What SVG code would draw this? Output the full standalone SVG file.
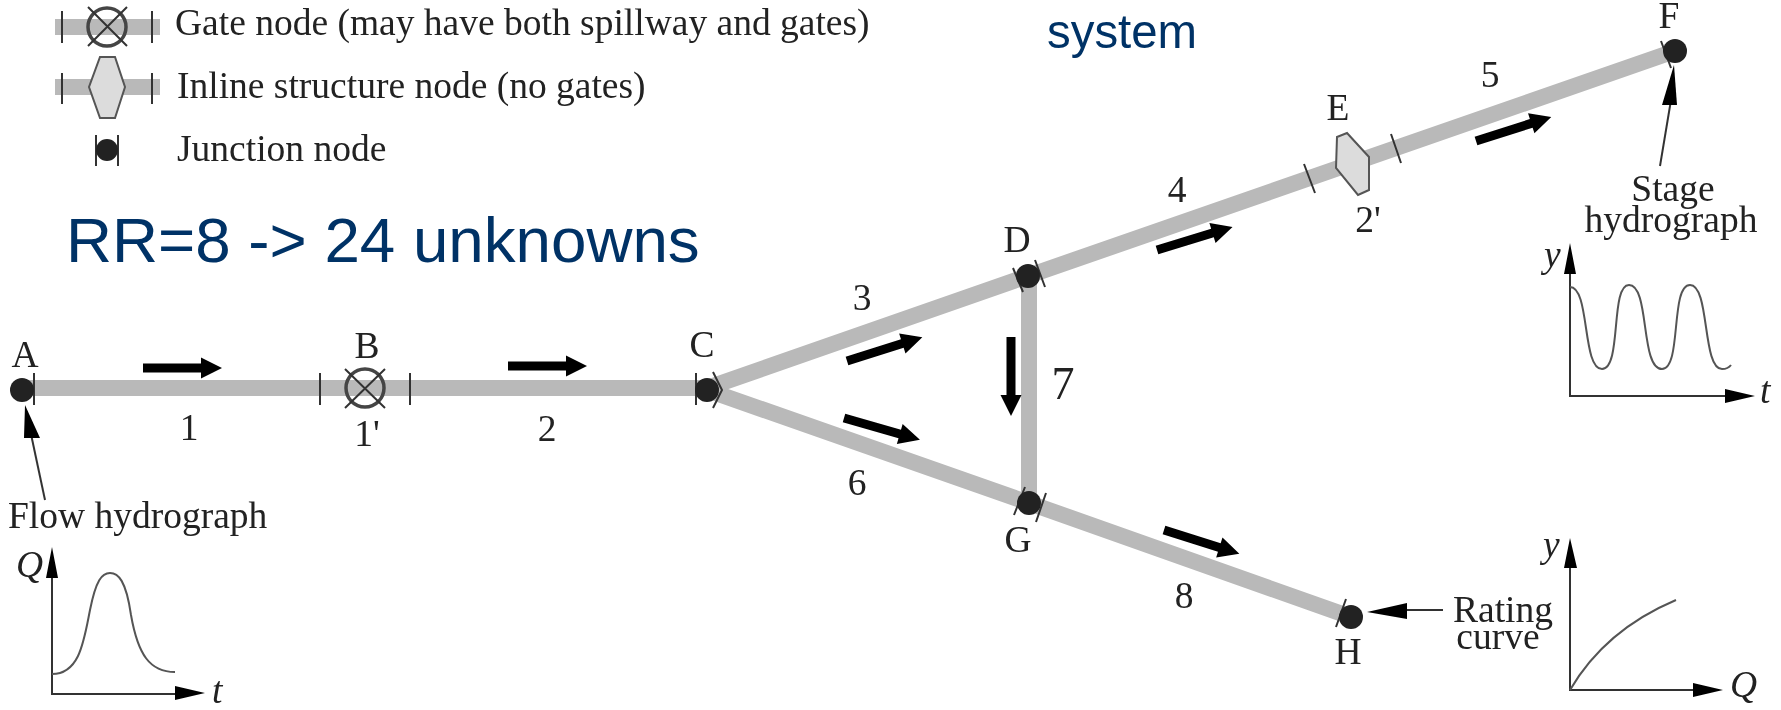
<svg xmlns="http://www.w3.org/2000/svg" width="1781" height="710" viewBox="0 0 1781 710">
<style>
.t{font-family:"Liberation Serif","Times New Roman",serif;font-size:37.5px;fill:#222}
.m{text-anchor:middle}
.i{font-style:italic}
.b{font-family:"Liberation Sans",Arial,sans-serif;fill:#003366}
.pipe{stroke:#b9b9b9;stroke-width:16;fill:none}
.tick{stroke:#333;stroke-width:2;fill:none}
.thin{stroke:#333;stroke-width:2;fill:none}
.curve{stroke:#555;stroke-width:2;fill:none}
.junction{fill:#222}
.struct{fill:#dcdcdc;stroke:#555;stroke-width:2}
.gate{fill:none;stroke:#444;stroke-width:3.5}
.head{fill:#000}
</style>
<defs>
<path id="flow" class="head" d="M0,-4.5 H58 V-10.5 L79,0 L58,10.5 V4.5 H0 Z"/>
<filter id="soft" x="0" y="0" width="100%" height="100%"><feGaussianBlur stdDeviation="0.6"/></filter>
</defs>
<g id="scan" filter="url(#soft)">
<rect width="1781" height="710" fill="#fff"/>
<g id="connectors">
<path class="pipe" d="M22,388 H707 L1028,276 L1675,51"/>
<path class="pipe" d="M707,390 L1029,503 L1351,617"/>
<path class="pipe" d="M1029,276 V503"/>
<use href="#flow" transform="translate(143,368)"/>
<use href="#flow" transform="translate(508,366)"/>
<use href="#flow" transform="translate(847,361) rotate(-17.5)"/>
<use href="#flow" transform="translate(844,418) rotate(16)"/>
<use href="#flow" transform="translate(1011,337) rotate(90)"/>
<use href="#flow" transform="translate(1157,250) rotate(-17)"/>
<use href="#flow" transform="translate(1476,141) rotate(-17.7)"/>
<use href="#flow" transform="translate(1164,530) rotate(17.5)"/>
<path class="tick" d="M34,373V405M320,373V405M410,373V405M696,373V405M713,372L722,390L713,408M1013,268L1023,292M1035,260L1045,287M1025,487L1014,515M1046,493L1036,522M1304,164L1315,193M1391,134L1401,163M1661,41L1671,68M1346,599L1336,627"/>
</g>
<g id="legend">
<path class="pipe" d="M55,27H160M55,87H160"/>
<path class="tick" d="M62,11V43M152,11V43M62,73V104M152,73V104M96,135V166M118,135V166"/>
<circle class="gate" cx="107" cy="27" r="19"/>
<path class="tick" d="M88,7L127,46M127,7L88,46"/>
<path class="struct" d="M100,57H115L125,87L115,118H100L89,87Z"/>
<circle class="junction" cx="107" cy="150" r="11"/>
<text class="t" x="175" y="35">Gate node (may have both spillway and gates)</text>
<text class="t" x="177" y="98">Inline structure node (no gates)</text>
<text class="t" x="177" y="161">Junction node</text>
</g>
<text class="b" x="66" y="262" font-size="63.7">RR=8 -&gt; 24 unknowns</text>
<text class="b" x="1047" y="48" font-size="47.4">system</text>
<g id="node-A"><circle class="junction" cx="22" cy="390" r="12"/><text class="t m" x="25" y="367">A</text></g>
<g id="node-B"><circle class="gate" cx="365" cy="388" r="19"/><path class="tick" d="M345,369L385,408M385,369L345,408"/><text class="t m" x="367" y="358">B</text><text class="t m" x="367" y="446">1'</text></g>
<g id="node-C"><circle class="junction" cx="707" cy="390" r="12"/><text class="t m" x="702" y="357">C</text></g>
<g id="node-D"><circle class="junction" cx="1028" cy="276" r="12"/><text class="t m" x="1017" y="252">D</text></g>
<g id="node-E"><path class="struct" d="M1337,137L1347,133L1369,157V190L1358,195L1336,168Z"/><text class="t m" x="1338" y="120">E</text><text class="t m" x="1368" y="232">2'</text></g>
<g id="node-F"><circle class="junction" cx="1675" cy="51" r="12"/><text class="t m" x="1669" y="28">F</text></g>
<g id="node-G"><circle class="junction" cx="1029" cy="503" r="12"/><text class="t m" x="1018" y="552">G</text></g>
<g id="node-H"><circle class="junction" cx="1351" cy="617" r="12"/><text class="t m" x="1348" y="664">H</text></g>
<g id="reach-labels">
<text class="t m" x="189" y="440">1</text>
<text class="t m" x="547" y="441">2</text>
<text class="t m" x="862" y="310">3</text>
<text class="t m" x="1177" y="202">4</text>
<text class="t m" x="1490" y="87">5</text>
<text class="t m" x="857" y="495">6</text>
<text class="t m" x="1063" y="399" style="font-size:46px">7</text>
<text class="t m" x="1184" y="608">8</text>
</g>
<g id="flow-hydrograph">
<path class="thin" d="M45,500L28,420"/><path class="head" d="M25,405L40,438L24,438Z"/>
<text class="t" x="8" y="528">Flow hydrograph</text>
<path class="thin" d="M52,570V694H180"/>
<path class="head" d="M52,547L58,578H46ZM205,693L175,686V700Z"/>
<path class="curve" d="M52,674C80,674 84,640 90,610C96,580 102,573 110,573C118,573 126,580 131,615C138,655 150,672 175,672"/>
<text class="t i" x="16" y="577">Q</text>
<text class="t i" x="212" y="703">t</text>
</g>
<g id="stage-hydrograph">
<path class="thin" d="M1660,166L1671,100"/><path class="head" d="M1674,65L1677,105H1662Z"/>
<text class="t m" x="1673" y="201">Stage</text>
<text class="t m" x="1671" y="232">hydrograph</text>
<path class="thin" d="M1570,270V396H1730"/>
<path class="head" d="M1570,243L1576,274H1564ZM1755,396L1725,389V403Z"/>
<path class="curve" d="M1570,287C1590,287 1582,369 1602,369C1622,369 1610,285 1629,285C1650,285 1640,369 1662,369C1682,369 1670,285 1690,285C1710,285 1702,369 1722,369Q1728,369 1731,365"/>
<text class="t i" x="1544" y="267">y</text>
<text class="t i" x="1760" y="403">t</text>
</g>
<g id="rating-curve">
<path class="thin" d="M1400,610H1443"/><path class="head" d="M1367,612L1407,603V619Z"/>
<text class="t" x="1453" y="622">Rating</text>
<text class="t m" x="1498" y="649">curve</text>
<path class="thin" d="M1570,565V690H1700"/>
<path class="head" d="M1570,538L1577,568H1564ZM1723,690L1693,683V697Z"/>
<path class="curve" d="M1570,690Q1605,630 1676,600"/>
<text class="t i" x="1543" y="557">y</text>
<text class="t i" x="1730" y="697">Q</text>
</g>
</g>
</svg>
